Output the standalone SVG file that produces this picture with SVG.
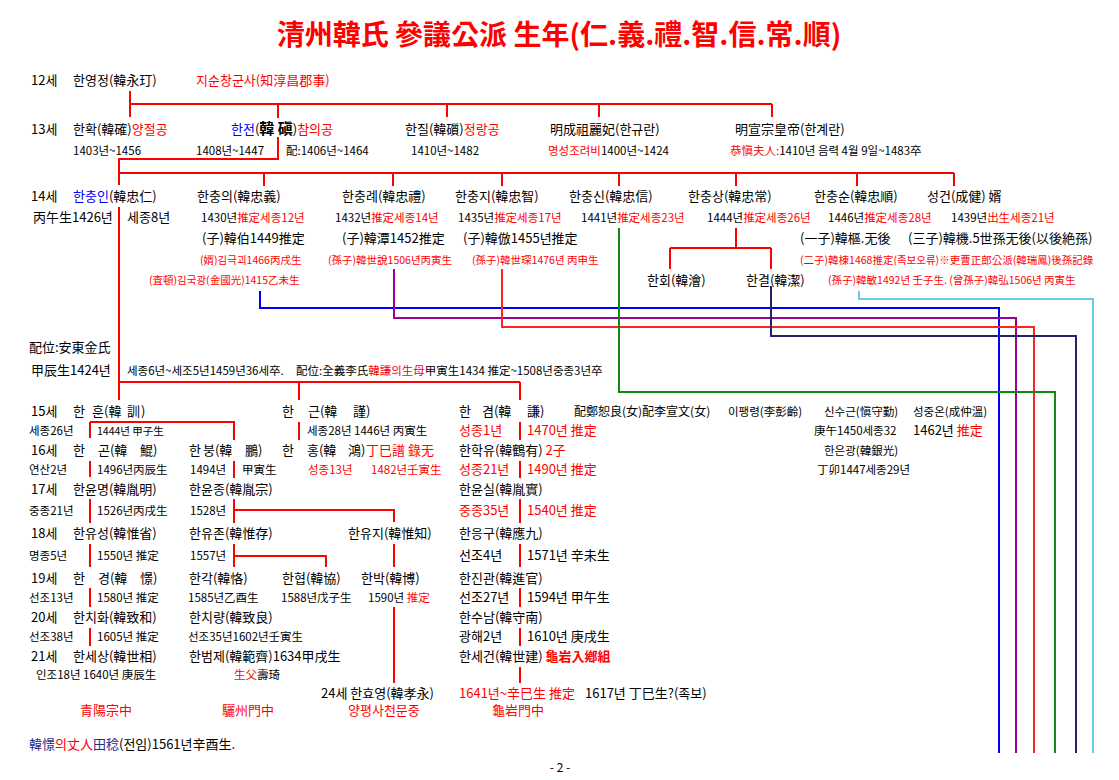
<svg xmlns="http://www.w3.org/2000/svg" width="1119" height="780" viewBox="0 0 1119 780">
<style>
text{font-family:"Noto Sans CJK KR","Noto Sans CJK SC",sans-serif;fill:#000;white-space:pre}
.m{font-size:13px}
.s{font-size:11.5px}
.xs{font-size:10.5px}
.r{fill:#ff0000}
.b{fill:#0000ff}
.n{fill:#2a2a80}
.ln{fill:none;stroke:#ff0000;stroke-width:2}
.c{fill:none;stroke-width:2}
</style>
<rect width="1119" height="780" fill="#fff"/>
<text x="559" y="45" text-anchor="middle" style="font-size:28px;font-weight:bold;fill:#ff0000">清州韓氏 參議公派 生年(仁.義.禮.智.信.常.順)</text>

<g id="connectors">
<path class="ln" d="M130 91V117M130 104H772M278 104V118M447 104V117M599 104V117M772 104V117M278 137V159H119V185M119 207V400M119 173H954M264 173V186M393 173V186M502 173V186M619 173V186M736 173V186M857 173V186M954 173V186M736 228V248M670 248H771M670 248V269M771 248V269M119 382H520M299 382V400M520 382V400"/>
<path class="ln" d="M90 422V438M90 422H234V440M299 422V440M520 422V440M90 461V477M234 461V478M520 461V478M90 499V523M234 499V523M234 510H394V522M520 499V523M90 544V567M234 544V567M234 556H326V567M394 544V567M520 544V567M90 588V607M394 607V683M520 588V607M90 628V646M520 628V646M520 667V683"/>
<path class="c" stroke="#0000ff" d="M260 291V308H999V753"/>
<path class="c" stroke="#990099" d="M394 269V318H1016V753"/>
<path class="c" stroke="#ff2222" d="M502 269V327H1034V753"/>
<path class="c" stroke="#118811" stroke-width="1.7" d="M619 228V392H1055V753"/>
<path class="c" stroke="#22226e" d="M771 286V336H1076V753"/>
<path class="c" stroke="#66ccee" d="M859 291V299H1093V753"/>
</g>

<g id="gen-labels">
<text class="m" x="31" y="85">12세</text>
<text class="m" x="31" y="134">13세</text>
<text class="m" x="31" y="201">14세</text>
<text class="m" x="31" y="416">15세</text>
<text class="m" x="31" y="455">16세</text>
<text class="m" x="31" y="494">17세</text>
<text class="m" x="31" y="538">18세</text>
<text class="m" x="31" y="583">19세</text>
<text class="m" x="31" y="622">20세</text>
<text class="m" x="31" y="661">21세</text>
</g>

<g id="n12">
<text class="m" x="73" y="85">한영정(韓永玎)</text>
<text class="m r" x="196" y="85">지순창군사(知淳昌郡事)</text>
</g>

<g id="n13-hwak">
<text class="m" x="73" y="134">한확(韓確)<tspan class="r">양절공</tspan></text>
<text class="s" x="73" y="155">1403년~1456</text>
</g>
<g id="n13-jeon">
<text class="m" x="231" y="134"><tspan class="b">한전</tspan>(<tspan style="font-size:15px;font-weight:bold">韓 磌</tspan>)<tspan class="r">참의공</tspan></text>
<text class="s" x="196" y="155">1408년~1447</text>
<text class="s" x="286" y="155">配:1406년~1464</text>
</g>
<g id="n13-jil">
<text class="m" x="405" y="134">한질(韓礩)<tspan class="r">정랑공</tspan></text>
<text class="s" x="411" y="155">1410년~1482</text>
</g>
<g id="n13-gyuran">
<text class="m" x="550" y="134">明成祖麗妃(한규란)</text>
<text class="s" x="548" y="155"><tspan class="r">명성조려비</tspan>1400년~1424</text>
</g>
<g id="n13-gyeran">
<text class="m" x="735" y="134">明宣宗皇帝(한계란)</text>
<text class="s" x="730" y="155"><tspan class="r">恭愼夫人:</tspan>1410년 음력 4월 9일~1483卒</text>
</g>

<g id="n14-chungin">
<text class="m" x="73" y="201"><tspan class="b">한충인</tspan>(韓忠仁)</text>
<text class="m" x="33" y="222">丙午生1426년</text>
<text class="m" x="127" y="222">세종8년</text>
<text class="m" x="29" y="352">配位:安東金氏</text>
<text class="m" x="31" y="375">甲辰生1424년</text>
<text class="s" x="127" y="375">세종6년~세조5년1459년36세卒.</text>
<text class="s" x="296" y="375">配位:全義李氏<tspan class="r">韓謙의生母</tspan>甲寅生1434 推定~1508년중종3년卒</text>
</g>
<g id="n14-chungui">
<text class="m" x="197" y="201">한충의(韓忠義)</text>
<text class="s" x="201" y="222">1430년<tspan class="r">推定세종12년</tspan></text>
<text class="m" x="202" y="243">(子)韓伯1449推定</text>
<text class="xs r" x="200" y="263.5">(婿)김극괴1466丙戌生</text>
<text class="xs r" x="149" y="284">(査頓)김국광(金國光)1415乙未生</text>
</g>
<g id="n14-chungrye">
<text class="m" x="342" y="201">한충례(韓忠禮)</text>
<text class="s" x="335" y="222">1432년<tspan class="r">推定세종14년</tspan></text>
<text class="m" x="342" y="243">(子)韓潭1452推定</text>
<text class="xs r" x="328" y="263.5">(孫子)韓世說1506년丙寅生</text>
</g>
<g id="n14-chungji">
<text class="m" x="455" y="201">한충지(韓忠智)</text>
<text class="s" x="458" y="222">1435년<tspan class="r">推定세종17년</tspan></text>
<text class="m" x="463" y="243">(子)韓倣1455년推定</text>
<text class="xs r" x="472" y="263.5">(孫子)韓世琛1476년 丙申生</text>
</g>
<g id="n14-chungsin">
<text class="m" x="569" y="201">한충신(韓忠信)</text>
<text class="s" x="581" y="222">1441년<tspan class="r">推定세종23년</tspan></text>
</g>
<g id="n14-chungsang">
<text class="m" x="688" y="201">한충상(韓忠常)</text>
<text class="s" x="707" y="222">1444년<tspan class="r">推定세종26년</tspan></text>
</g>
<g id="n14-chungsun">
<text class="m" x="814" y="201">한충순(韓忠順)</text>
<text class="s" x="828" y="222">1446년<tspan class="r">推定세종28년</tspan></text>
<text class="m" x="800" y="243">(一子)韓樞.无後</text>
<text class="m" x="908" y="243">(三子)韓機.5世孫无後(以後絶孫)</text>
<text class="xs r" x="800" y="263.5">(二子)韓棟1468推定(족보오류)※吏曹正郎公派(韓瑞鳳)後孫記錄</text>
</g>
<g id="n14-seonggeon">
<text class="m" x="927" y="201">성건(成健) 婿</text>
<text class="s" x="951" y="222">1439년<tspan class="r">出生세종21년</tspan></text>
</g>
<g id="n15-hoe">
<text class="m" x="647" y="285">한회(韓澮)</text>
</g>
<g id="n15-gyeol">
<text class="m" x="746" y="285">한결(韓潔)</text>
<text class="xs r" x="828" y="284">(孫子)韓敏1492년 壬子生. (曾孫子)韓弘1506년 丙寅生</text>
</g>

<g id="line-hun">
<text class="m" y="416"><tspan x="73">한</tspan><tspan x="92">훈</tspan><tspan x="104">(韓</tspan><tspan x="127">訓</tspan><tspan x="141">)</tspan></text>
<text class="s" x="29" y="435">세종26년</text>
<text class="xs" x="97" y="435">1444년 甲子生</text>
<text class="m" y="455"><tspan x="73">한</tspan><tspan x="98">곤(韓</tspan><tspan x="140">鯤)</tspan></text>
<text class="s" x="29" y="474">연산2년</text>
<text class="s" x="97" y="474">1496년丙辰生</text>
<text class="m" x="73" y="494">한윤명(韓胤明)</text>
<text class="s" x="29" y="515">중종21년</text>
<text class="s" x="97" y="515">1526년丙戌生</text>
<text class="m" x="73" y="538">한유성(韓惟省)</text>
<text class="s" x="29" y="560">명종5년</text>
<text class="s" x="97" y="560">1550년 推定</text>
<text class="m" y="583"><tspan x="73">한</tspan><tspan x="98">경(韓</tspan><tspan x="140">憬)</tspan></text>
<text class="s" x="29" y="602">선조13년</text>
<text class="s" x="97" y="602">1580년 推定</text>
<text class="m" x="73" y="622">한치화(韓致和)</text>
<text class="s" x="29" y="641">선조38년</text>
<text class="s" x="97" y="641">1605년 推定</text>
<text class="m" x="73" y="661">한세상(韓世相)</text>
<text class="s" x="36" y="679">인조18년 1640년 庚辰生</text>
<text class="m r" x="80" y="715">青陽宗中</text>
</g>

<g id="line-bung">
<text class="m" y="455"><tspan x="189">한</tspan><tspan x="203">붕(韓</tspan><tspan x="245">鵬)</tspan></text>
<text class="s" x="190" y="474">1494년</text>
<text class="s" x="242" y="474">甲寅生</text>
<text class="m" x="189" y="494">한윤종(韓胤宗)</text>
<text class="s" x="190" y="515">1528년</text>
<text class="m" x="189" y="538">한유존(韓惟存)</text>
<text class="s" x="190" y="560">1557년</text>
<text class="m" x="189" y="583">한각(韓恪)</text>
<text class="s" x="188" y="602">1585년乙酉生</text>
<text class="m" x="189" y="622">한치량(韓致良)</text>
<text class="s" x="188" y="641">선조35년1602년壬寅生</text>
<text class="m" x="189" y="661">한범제(韓範齊)1634甲戌生</text>
<text class="s" x="234" y="679"><tspan class="r">生父</tspan>壽琦</text>
<text class="m r" x="222" y="715">驪州門中</text>
</g>

<g id="n16-hyeop">
<text class="m" x="282" y="583">한협(韓協)</text>
<text class="s" x="281" y="602">1588년戊子生</text>
</g>

<g id="line-geun">
<text class="m" y="416"><tspan x="282">한</tspan><tspan x="308">근(韓</tspan><tspan x="353">謹)</tspan></text>
<text class="s" x="307" y="435">세종28년 1446년 丙寅生</text>
<text class="m" y="455"><tspan x="282">한</tspan><tspan x="307">홍(韓</tspan><tspan x="348">鴻)</tspan><tspan x="366" class="r">丁巳譜 錄无</tspan></text>
<text class="s r" x="308" y="474">성종13년</text>
<text class="s r" x="371" y="474">1482년壬寅生</text>
<text class="m" x="348" y="538">한유지(韓惟知)</text>
<text class="m" x="361" y="583">한박(韓博)</text>
<text class="s" x="368" y="602">1590년 <tspan class="r">推定</tspan></text>
<text class="m" x="321" y="698">24세 한효영(韓孝永)</text>
<text class="m r" x="348" y="715">양평사천문중</text>
</g>

<g id="line-gyeom">
<text class="m" y="416"><tspan x="459">한</tspan><tspan x="482">겸(韓</tspan><tspan x="527">謙)</tspan></text>
<text class="m r" x="459" y="435">성종1년</text>
<text class="m r" x="527" y="435">1470년 推定</text>
<text class="m" x="459" y="455">한학유(韓鶴有) <tspan class="r">2子</tspan></text>
<text class="m r" x="459" y="474">성종21년</text>
<text class="m r" x="527" y="474">1490년 推定</text>
<text class="m" x="459" y="494">한윤실(韓胤實)</text>
<text class="m r" x="459" y="515">중종35년</text>
<text class="m r" x="527" y="515">1540년 推定</text>
<text class="m" x="459" y="538">한응구(韓應九)</text>
<text class="m" x="459" y="560">선조4년</text>
<text class="m" x="527" y="560">1571년 辛未生</text>
<text class="m" x="459" y="583">한진관(韓進官)</text>
<text class="m" x="459" y="602">선조27년</text>
<text class="m" x="527" y="602">1594년 甲午生</text>
<text class="m" x="459" y="622">한수남(韓守南)</text>
<text class="m" x="459" y="641">광해2년</text>
<text class="m" x="527" y="641">1610년 庚戌生</text>
<text class="m" x="459" y="661">한세건(韓世建) <tspan class="r" style="font-weight:bold">龜岩入鄕組</tspan></text>
<text class="m r" x="459" y="698">1641년~辛巳生 推定</text>
<text class="m" x="585" y="698">1617년 丁巳生?(족보)</text>
<text class="m r" x="492" y="715">龜岩門中</text>
</g>

<g id="n15-daughters">
<text style="font-size:12px" x="574" y="416">配鄭恕良(女)配李宣文(女)</text>
</g>
<g id="n15-paengnyeong">
<text class="s" x="728" y="416">이팽령(李彭齡)</text>
</g>
<g id="n15-sugeun">
<text class="s" x="824" y="416">신수근(愼守勤)</text>
<text class="s" x="814" y="435">庚午1450세종32</text>
<text class="s" x="824" y="455">한은광(韓銀光)</text>
<text class="s" x="817" y="474">丁卯1447세종29년</text>
</g>
<g id="n15-jungon">
<text class="s" x="913" y="416">성중온(成仲溫)</text>
<text class="m" x="913" y="435">1462년 <tspan class="r">推定</tspan></text>
</g>

<g id="note">
<text class="m" x="29" y="749"><tspan class="n">韓憬</tspan><tspan class="r">의丈人</tspan><tspan class="n">田稔</tspan>(전임)1561년辛酉生.</text>
<text style="font-size:12px" x="560" y="772" text-anchor="middle">- 2 -</text>
</g>
</svg>
